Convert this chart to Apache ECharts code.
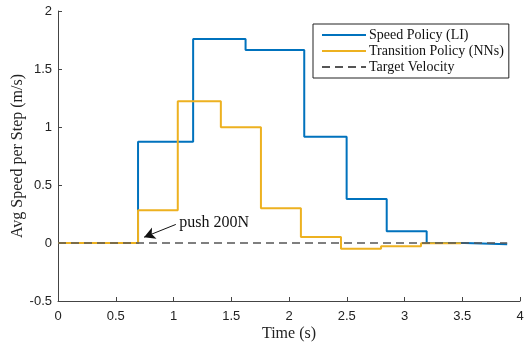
<!DOCTYPE html>
<html>
<head>
<meta charset="utf-8">
<script src="https://cdn.jsdelivr.net/npm/echarts@6/dist/echarts.min.js"></script>
<style>
  html, body { margin: 0; padding: 0; background: #fff; }
  #chart { width: 524px; height: 342px; }
</style>
</head>
<body>
<div id="chart"></div>
<script>
// step boundaries (s) and held value (m/s)
var speedTimes = [0, 0.693, 1.170, 1.624, 2.132, 2.499, 2.846, 3.192, 3.520, 3.889];
var speedVals  = [0, 0.873, 1.759, 1.664, 0.916, 0.379, 0.101, 0.000, -0.011, -0.011];

var transTimes = [0, 0.693, 1.037, 1.410, 1.757, 2.103, 2.450, 2.797, 3.143, 3.490];
var transVals  = [0, 0.282, 1.221, 0.997, 0.299, 0.052, -0.049, -0.028, -0.003, -0.003];

var targetTimes = [0, 3.889];
var targetVals  = [0, 0];

var serif = '"Liberation Serif", "DejaVu Serif", serif';
var sans = '"Liberation Sans", Arial, sans-serif';

function pairs(xs, ys) {
    var out = [];
    for (var i = 0; i < xs.length; i++) out.push([xs[i], ys[i]]);
    return out;
}

var chart = echarts.init(document.getElementById('chart'));
chart.setOption({
    animation: false,
    grid: { left: 58, right: 4, top: 11, bottom: 41, outerBoundsMode: 'none' },
    legend: {
        orient: 'vertical',
        left: 313, top: 24,
        padding: [4, 5, 4, 8],
        itemWidth: 44, itemHeight: 14, itemGap: 2,
        borderColor: '#222', borderWidth: 1,
        backgroundColor: '#fff',
        itemStyle: { opacity: 0 },
        textStyle: { fontFamily: serif, fontSize: 14, color: '#111', padding: [0, 0, 0, -2] },
        data: ['Speed Policy (LI)', 'Transition Policy (NNs)', 'Target Velocity']
    },
    xAxis: {
        type: 'value', min: 0, max: 4, interval: 0.5,
        name: 'Time (s)', nameLocation: 'middle', nameGap: 25, nameMoveOverlap: false,
        nameTextStyle: { fontFamily: serif, fontSize: 16, color: '#222' },
        axisLine: { onZero: false, lineStyle: { color: '#444', width: 1 } },
        axisTick: { inside: true, length: 4, lineStyle: { color: '#444' } },
        axisLabel: { fontFamily: sans, fontSize: 13, color: '#222', margin: 9 },
        splitLine: { show: false }
    },
    yAxis: {
        type: 'value', min: -0.5, max: 2, interval: 0.5,
        name: 'Avg Speed per Step (m/s)', nameLocation: 'middle', nameGap: 32, nameMoveOverlap: false,
        nameTextStyle: { fontFamily: serif, fontSize: 16, color: '#222' },
        axisLine: { show: true, lineStyle: { color: '#444', width: 1 } },
        axisTick: { show: true, inside: true, length: 4, lineStyle: { color: '#444' } },
        axisLabel: { fontFamily: sans, fontSize: 13, color: '#222', margin: 6 },
        splitLine: { show: false }
    },
    series: [
        {
            name: 'Speed Policy (LI)', type: 'line', step: 'end',
            showSymbol: false, symbol: 'none',
            color: '#0072BD',
            lineStyle: { width: 2, color: '#0072BD' },
            data: pairs(speedTimes, speedVals)
        },
        {
            name: 'Transition Policy (NNs)', type: 'line', step: 'end',
            showSymbol: false, symbol: 'none',
            color: '#EDB120',
            lineStyle: { width: 2, color: '#EDB120' },
            data: pairs(transTimes, transVals)
        },
        {
            name: 'Target Velocity', type: 'line',
            showSymbol: false, symbol: 'none',
            color: '#555',
            lineStyle: { width: 1.5, color: '#555', type: [8, 5] },
            data: pairs(targetTimes, targetVals),
            markLine: {
                silent: true,
                symbol: ['none', 'arrow'], symbolSize: [9, 11],
                lineStyle: { color: '#111', type: 'solid', width: 1 },
                label: { show: false },
                data: [[{ coord: [1.02, 0.16] }, { coord: [0.745, 0.05] }]]
            },
            markPoint: {
                silent: true,
                symbol: 'circle', symbolSize: 0,
                label: {
                    show: true, position: 'right', distance: 0,
                    formatter: 'push 200N',
                    fontFamily: serif, fontSize: 16, color: '#111'
                },
                data: [{ coord: [1.05, 0.175] }]
            }
        }
    ]
});
</script>
</body>
</html>
